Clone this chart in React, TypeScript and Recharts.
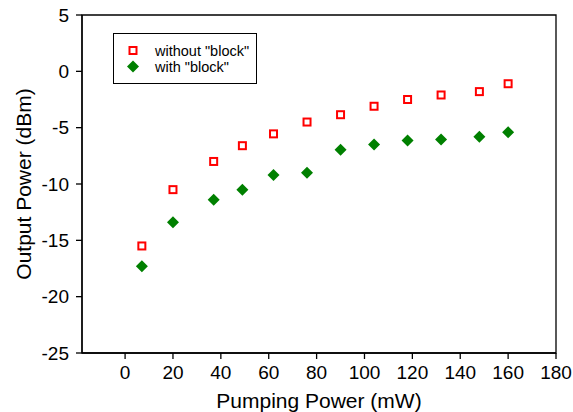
import React from "react";
import {
  ScatterChart,
  Scatter,
  XAxis,
  YAxis,
  ReferenceArea,
  Label,
} from "recharts";

const pumpPower = [7, 20, 37, 49, 62, 76, 90, 104, 118, 132, 148, 160];
const withoutBlock = [-15.5, -10.5, -8.0, -6.6, -5.55, -4.5, -3.85, -3.1, -2.5, -2.1, -1.8, -1.1];
const withBlock = [-17.3, -13.4, -11.4, -10.5, -9.2, -9.0, -6.95, -6.5, -6.15, -6.05, -5.8, -5.4];
const xTicks = [0, 20, 40, 60, 80, 100, 120, 140, 160, 180];
const yTicks = [-25, -20, -15, -10, -5, 0, 5];
const seriesNames = ['without "block"', 'with "block"'];

const dataWithout = pumpPower.map((x, i) => ({ x, y: withoutBlock[i] }));
const dataWith = pumpPower.map((x, i) => ({ x, y: withBlock[i] }));

const FONT = "'Liberation Sans', Arial, sans-serif";
const RED = "#ff0000";
const GREEN = "#008000";

const SquareShape = (props: any) => {
  const { cx, cy } = props;
  if (cx == null || cy == null) return null;
  return (
    <rect x={cx - 3.5} y={cy - 3.5} width={7} height={7} fill="#fff" stroke={RED} strokeWidth={2} />
  );
};

const DiamondShape = (props: any) => {
  const { cx, cy } = props;
  if (cx == null || cy == null) return null;
  const r = 6;
  return (
    <polygon
      points={`${cx},${cy - r} ${cx + r},${cy} ${cx},${cy + r} ${cx - r},${cy}`}
      fill={GREEN}
      stroke="none"
    />
  );
};

const LegendBox = () => (
  <div
    style={{
      position: "absolute",
      left: 113,
      top: 33,
      width: 144,
      height: 51,
      border: "1px solid #000",
      boxSizing: "border-box",
      background: "#fff",
      fontFamily: FONT,
      fontSize: 14.5,
      color: "#000",
    }}
  >
    <svg width={142} height={49} style={{ position: "absolute", left: 0, top: 0 }}>
      <rect x={15.5} y={13} width={7} height={7} fill="#fff" stroke={RED} strokeWidth={2} />
      <polygon points="19,26.5 25,32.5 19,38.5 13,32.5" fill={GREEN} />
      <text x={41} y={16.5} dominantBaseline="central" fontFamily={FONT} fontSize={14.5} fill="#000">
        {seriesNames[0]}
      </text>
      <text x={41} y={32.5} dominantBaseline="central" fontFamily={FONT} fontSize={14.5} fill="#000">
        {seriesNames[1]}
      </text>
    </svg>
  </div>
);

export default function App() {
  return (
    <div style={{ position: "absolute", left: 0, top: 0, width: 573, height: 412, background: "#fff" }}>
      <ScatterChart
        width={573}
        height={412}
        margin={{ top: 15, right: 17, left: 0, bottom: 0 }}
        style={{ fontFamily: FONT }}
      >
        <XAxis
          type="number"
          dataKey="x"
          domain={[-18, 180]}
          ticks={xTicks}
          allowDataOverflow
          height={59}
          tickSize={6}
          tickMargin={7}
          stroke="#000"
          strokeWidth={1.3}
          tick={{ fill: "#000", fontSize: 19, fontFamily: FONT }}
          interval={0}
        >
          <Label
            value="Pumping Power (mW)"
            position="insideBottom"
            offset={4}
            style={{ fill: "#000", fontSize: 21, fontFamily: FONT }}
          />
        </XAxis>
        <YAxis
          type="number"
          dataKey="y"
          domain={[-25, 5]}
          ticks={yTicks}
          allowDataOverflow
          width={82}
          tickSize={6}
          tickMargin={7}
          stroke="#000"
          strokeWidth={1.3}
          tick={{ fill: "#000", fontSize: 19, fontFamily: FONT }}
          interval={0}
        >
          <Label
            value="Output Power (dBm)"
            angle={-90}
            position="insideLeft"
            offset={24}
            style={{ fill: "#000", fontSize: 21, fontFamily: FONT, textAnchor: "middle" }}
          />
        </YAxis>
        <ReferenceArea
          x1={-18}
          x2={180}
          y1={-25}
          y2={5}
          fill="none"
          fillOpacity={0}
          stroke="#000"
          strokeWidth={1.3}
          ifOverflow="visible"
        />
        <Scatter
          name={seriesNames[0]}
          data={dataWithout}
          shape={SquareShape}
          fill={RED}
          isAnimationActive={false}
        />
        <Scatter
          name={seriesNames[1]}
          data={dataWith}
          shape={DiamondShape}
          fill={GREEN}
          isAnimationActive={false}
        />
      </ScatterChart>
      <LegendBox />
    </div>
  );
}
